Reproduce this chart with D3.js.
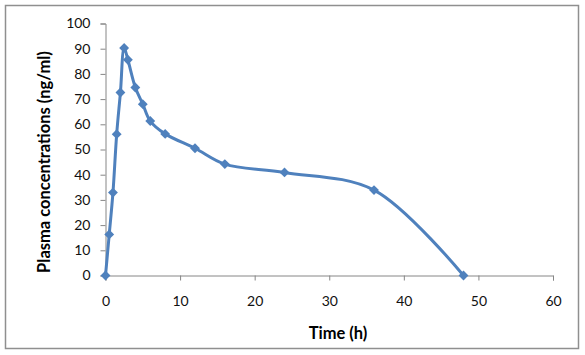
<!DOCTYPE html>
<html><head><meta charset="utf-8">
<script src="https://cdn.jsdelivr.net/npm/d3@7"></script>
<style>body{margin:0;background:#fff;}</style>
</head><body>
<svg id="c" width="585" height="355"></svg>
<script>
const times = [0, 0.5, 1, 1.5, 2, 2.5, 3, 4, 5, 6, 8, 12, 16, 24, 36, 48];
const conc  = [0, 16.3, 32.9, 56.1, 72.6, 90.3, 85.6, 74.6, 68, 61.3, 56.2, 50.5, 44.2, 40.9, 33.9, 0];
const xTicks = [0, 10, 20, 30, 40, 50, 60];
const yTicks = [0, 10, 20, 30, 40, 50, 60, 70, 80, 90, 100];
const xTitle = "Time (h)";
const yTitle = "Plasma concentrations (ng/ml)";

const svg = d3.select("#c");
const font = "Lato, 'Open Sans', sans-serif";
svg.append("rect").attr("x",5.5).attr("y",5.5).attr("width",573).attr("height",343)
  .attr("fill","none").attr("stroke","#8f8f8f").attr("stroke-width",1.5);

const x = d3.scaleLinear().domain([0,60]).range([105.5,553]);
const y = d3.scaleLinear().domain([0,100]).range([275.5,23.5]);
const axisColor = "#868686";

const gx = svg.append("g").attr("transform","translate(0,275.5)")
  .call(d3.axisBottom(x).tickValues(xTicks).tickSize(5).tickPadding(16));
const gy = svg.append("g").attr("transform","translate(105.5,0)")
  .call(d3.axisLeft(y).tickValues(yTicks).tickSize(5).tickPadding(10));
[gx,gy].forEach(g=>{
  g.select(".domain").attr("stroke",axisColor);
  g.selectAll(".tick line").attr("stroke",axisColor);
  g.selectAll("text").attr("font-family",font).attr("font-size",14).attr("fill","#111");
});

const line = d3.line().x((d,i)=>x(times[i])).y(d=>y(d)).curve(d3.curveCatmullRom.alpha(0.5));
svg.append("path").datum(conc).attr("d",line).attr("fill","none")
  .attr("stroke","#4f81bd").attr("stroke-width",3).attr("stroke-linejoin","round");

const sym = d3.symbol().type(d3.symbolDiamond2).size(62);
svg.selectAll(".m").data(conc).join("path").attr("class","m")
  .attr("d",sym).attr("transform",(d,i)=>`translate(${x(times[i])},${y(d)})`)
  .attr("fill","#4f81bd");

svg.append("text").attr("x",338).attr("y",339).attr("text-anchor","middle")
  .attr("font-family",font).attr("font-weight","bold").attr("font-size",16.5).text(xTitle);
svg.append("text").attr("transform","translate(50,162) rotate(-90)").attr("text-anchor","middle")
  .attr("font-family",font).attr("font-weight","bold").attr("font-size",16.5).text(yTitle);
</script>
</body></html>
